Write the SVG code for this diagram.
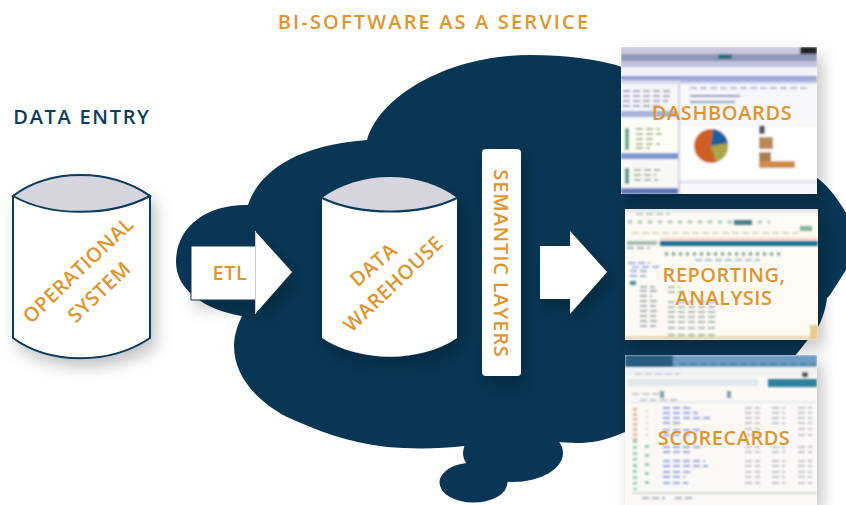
<svg xmlns="http://www.w3.org/2000/svg" width="846" height="505" viewBox="0 0 846 505">
<style>
text{font-family:"Open Sans","Noto Sans","Liberation Sans",sans-serif;font-weight:600;fill:#de9530;text-anchor:middle;font-size:20px;letter-spacing:.5px}
.body{fill:#fff;stroke:#0a3a5c;stroke-width:2}
.top{fill:#d6d5df;stroke:#0a3a5c;stroke-width:2}
.cloud{fill:#083654}
.arrow{fill:#fff}
.d{fill:none;stroke-width:2;stroke-dasharray:7 3}
</style>
<defs>
<filter id="sh" x="-30%" y="-30%" width="160%" height="160%"><feDropShadow dx="5" dy="8" stdDeviation="8" flood-color="#000" flood-opacity=".24"/></filter>
<filter id="bl" x="-5%" y="-5%" width="110%" height="110%"><feGaussianBlur stdDeviation="0.9"/></filter>
<clipPath id="c1"><rect x="621" y="47" width="196" height="147"/></clipPath>
<clipPath id="c2"><rect x="625" y="209" width="193" height="131"/></clipPath>
<clipPath id="c3"><rect x="625" y="355" width="192" height="150"/></clipPath>
</defs>
<rect width="846" height="505" fill="#fff"/>
<g id="cloud">
<path class="cloud" d="M176 262C176 228 205 204 248 205C256 180 285 146 367 140C380 95 450 55 530 55C565 55 600 59 625 68L817 178C825 183 838 198 846 213V270L830 295L827 298C826 308 822 320 818 327L795 356L625 432C605 441 590 443 577 443C570 443 563 442 558 442L465 446C440 449 410 449 387 447C350 443 315 430 287 417C255 400 234 375 234 346C234 335 238 324 242 316C205 310 176 290 176 262Z"/>
<ellipse class="cloud" cx="513" cy="453" rx="50" ry="29"/>
<ellipse class="cloud" cx="473.500" cy="482.500" rx="34" ry="20"/>
</g>
<text x="434" y="29" style="letter-spacing:2.15px">BI-SOFTWARE AS A SERVICE</text>
<text x="82" y="124" style="letter-spacing:1.7px;fill:#0d3c5c">DATA ENTRY</text>
<g id="operational-system">
<path class="body" filter="url(#sh)" d="M13 196C50 173 110 170 150 196V338C110 365 50 365 13 338Z"/>
<path class="top" d="M13 196C50 168 110 168 150 196C110 217 50 217 13 196Z"/>
<text transform="translate(83 275) rotate(-43.500)">OPERATIONAL</text>
<text transform="translate(104 297) rotate(-43.500)">SYSTEM</text>
</g>
<g id="data-warehouse">
<path d="M322 198C360 176 420 176 457 198V338C420 363 360 363 322 338Z" fill="#fff" filter="url(#sh)"/>
<path class="top" style="stroke:none" d="M322 198C360 170 420 170 457 198C420 216 360 216 322 198Z"/>
<path d="M322 198C360 216 420 216 457 198" fill="none" stroke="#0a3a5c" stroke-width="2"/>
<text transform="translate(378 270) rotate(-41)">DATA</text>
<text transform="translate(398 289) rotate(-43.500)">WAREHOUSE</text>
</g>
<g id="semantic-layers">
<rect x="482" y="149" width="39" height="227" rx="4" fill="#fff" filter="url(#sh)"/>
<text transform="translate(494 263.500) rotate(90)" style="letter-spacing:.85px">SEMANTIC LAYERS</text>
</g>
<g id="connectors">
<g id="etl-arrow">
<path class="arrow" filter="url(#sh)" d="M191 246H255V231L292 272L255 314V300H191Z"/>
<path d="M255 246H191V300H255" fill="none" stroke="#0a3a5c" stroke-width="1"/>
<path d="M255.500 231V314" fill="none" stroke="#c9ccd6" stroke-width="1"/>
<text x="230" y="280">ETL</text>
</g>
<path class="arrow" filter="url(#sh)" d="M540 246H570V231L607 272L570 314V299H540Z"/>
</g>
<g id="dashboards">
<rect x="621" y="47" width="196" height="147" fill="#f6f6fb" filter="url(#sh)"/>
<g clip-path="url(#c1)"><g filter="url(#bl)">
<rect x="621" y="47" width="196" height="8" fill="#c9c8dc"/>
<rect x="621" y="54" width="196" height="7" fill="#9097b8"/>
<rect x="800" y="47" width="17" height="7" fill="#222"/>
<rect x="718" y="54" width="14" height="5" fill="#2c6f7e"/>
<rect x="621" y="61" width="196" height="6" fill="#bfc0dc"/>
<rect x="621" y="67" width="196" height="8" fill="#f4f4f8"/>
<rect x="621" y="76" width="196" height="4" fill="#8d9cd0"/>
<rect x="621" y="80" width="196" height="4" fill="#d8dcec"/>
<path class="d" d="M623 91H670M623 96H672M623 101H668M623 106H660" stroke="#a7aac6"/>
<rect x="621" y="111" width="57" height="6" fill="#a6b2dc"/>
<rect x="621" y="119" width="57" height="34" fill="#fdfdf4"/>
<path class="d" d="M636 129H660M636 134H662M636 139H656M636 144H660M636 148H650" stroke="#a8b98a"/>
<rect x="625" y="128" width="4" height="22" fill="#5fa98a"/>
<rect x="621" y="153" width="57" height="6" fill="#7f95cf"/>
<rect x="621" y="160" width="57" height="28" fill="#f8f8f4"/>
<path class="d" d="M634 170H660M634 175H656M634 180H658" stroke="#9fb4a6"/>
<rect x="625" y="168" width="4" height="16" fill="#4f9a8a"/>
<rect x="621" y="188" width="57" height="6" fill="#5c78b8"/>
<rect x="678" y="84" width="2" height="110" fill="#cfd0e2"/>
<rect x="680" y="78" width="137" height="4" fill="#a4b0da"/>
<path class="d" d="M690 88H810" stroke="#b8bcd8"/>
<path d="M690 96H740M690 102H735" stroke="#9a9fc0" stroke-width="2" fill="none"/>
<rect x="680" y="126" width="137" height="53" fill="#fff"/>
<circle cx="711" cy="146" r="17" fill="#cf5f24"/>
<path d="M711 146L713 129A17 17 0 0 1 728 143Z" fill="#1f5f9e"/>
<path d="M711 146L728 143A17 17 0 0 1 716 162Z" fill="#a9a84a"/>
<rect x="759" y="126" width="6" height="8" fill="#556"/>
<rect x="759" y="137" width="14" height="12" fill="#b88a5a"/>
<rect x="759" y="152" width="12" height="9" fill="#a88050"/>
<rect x="759" y="161" width="36" height="7" fill="#cf8d46"/>
<rect x="680" y="181" width="137" height="2" fill="#dfe0ea"/>
</g></g>
<text x="722" y="120" style="letter-spacing:.6px">DASHBOARDS</text>
</g>
<g id="reporting-analysis">
<rect x="625" y="209" width="193" height="131" fill="#fdfaf4" filter="url(#sh)"/>
<g clip-path="url(#c2)"><g filter="url(#bl)">
<rect x="625" y="209" width="193" height="3" fill="#e0e4e4"/>
<path class="d" d="M636 214H670" stroke="#b9c2c8"/>
<path class="d" d="M628 222H770" stroke="#a4c8bc" style="stroke-width:3;stroke-dasharray:4 6"/>
<rect x="734" y="220" width="18" height="5" fill="#4e7d8a"/>
<rect x="800" y="226" width="12" height="5" fill="#7fb89a"/>
<path class="d" d="M632 233H800" stroke="#dcd6c0"/>
<rect x="627" y="241" width="30" height="4" fill="#a6bdb0"/>
<rect x="660" y="241" width="158" height="5" fill="#1f6f92"/>
<path d="M660 239H818" stroke="#eb9a80" stroke-width="1"/>
<path class="d" d="M627 248H650" stroke="#a0b4b4"/>
<path class="d" d="M665 254H780" stroke="#6f9c92" style="stroke-width:3;stroke-dasharray:3 4"/>
<path class="d" d="M695 260H760" stroke="#9cc0d0"/>
<path class="d" d="M628 263H650M632 267H660M630 271H650M630 276H646" stroke="#9bb0e2"/>
<rect x="630" y="281" width="6" height="4" fill="#4f8a9a"/>
<path class="d" d="M640 287H655M640 291H660M640 296H652M640 301H660M640 306H656M640 311H660M640 316H656M640 321H660M640 326H656" stroke="#9fb0ae"/>
<path class="d" d="M668 287H680M668 292H686M668 302H715M668 307H715M668 312H715M668 317H715M668 322H715M668 328H715M668 335H715" stroke="#a9b8b2"/>
<rect x="625" y="336" width="193" height="4" fill="#e8dab8"/>
<rect x="810" y="325" width="8" height="15" fill="#ecc890"/>
</g></g>
<text x="724" y="282">REPORTING,<tspan x="724" dy="23">ANALYSIS</tspan></text>
</g>
<g id="scorecards">
<rect x="625" y="355" width="192" height="150" fill="#fbf8f5" filter="url(#sh)"/>
<g clip-path="url(#c3)"><g filter="url(#bl)">
<rect x="625" y="355" width="192" height="12" fill="#6d9cc0"/>
<rect x="625" y="355" width="48" height="12" fill="#2a5c80"/>
<path class="d" d="M680 364H815" stroke="#3f7da4"/>
<rect x="625" y="368" width="192" height="8" fill="#eef2f4"/>
<path class="d" d="M635 374H680" stroke="#c7cde2"/>
<rect x="802" y="372" width="6" height="5" fill="#555"/>
<rect x="628" y="379" width="130" height="7" fill="#dfe8ea"/>
<rect x="768" y="379" width="49" height="8" fill="#2f7f9c"/>
<path class="d" d="M632 394H660" stroke="#bfcaca"/>
<rect x="660" y="391" width="4" height="7" fill="#7fa0a4"/>
<rect x="727" y="391" width="4" height="7" fill="#7fa0a4"/>
<path class="d" d="M640 400H680" stroke="#bfcaca"/>
<path d="M630 402H817" stroke="#d7dce4" stroke-width="1"/>
<path class="d" d="M663 408H690M663 413H698M663 418H710M663 423H682M663 430H700M663 435H690M663 447H700M663 452H690M663 461H705M663 466H708M663 472H690M663 477H685M663 483H688" stroke="#98a4e2"/>
<path class="d" d="M745 408H760M745 413H760M745 418H760M745 423H760M745 429H760M745 435H760M745 447H760M745 452H760M745 461H760M745 466H760M745 472H760M745 477H760M745 483H760" stroke="#c6c2c8"/>
<path class="d" d="M772 408H785M772 413H785M772 418H785M772 423H785M772 447H785M772 452H785M772 461H785M772 466H785M772 472H785M772 477H785M772 483H785" stroke="#c6c2c8"/>
<path class="d" d="M798 408H812M798 413H812M798 418H812M798 423H812M798 429H812M798 435H812M798 447H812M798 452H812M798 461H812M798 466H812M798 472H812M798 477H812M798 483H812" stroke="#c6c2c8"/>
<path class="d" d="M635 408V440" stroke="#e4b8a0" style="stroke-width:4;stroke-dasharray:3 2"/>
<path class="d" d="M635 440V490" stroke="#8fcfb0" style="stroke-width:4;stroke-dasharray:3 3"/>
<path class="d" d="M647 410V440" stroke="#e8cab8" style="stroke-width:2;stroke-dasharray:2 4"/>
<path class="d" d="M647 445V490" stroke="#8fcfb0" style="stroke-width:4;stroke-dasharray:3 6"/>
<path d="M632 493H817" stroke="#d9d9d4" stroke-width="2"/>
<path class="d" d="M642 498H665M675 498H695" stroke="#aab4b4"/>
</g></g>
<text x="724" y="445">SCORECARDS</text>
</g>
</svg>
